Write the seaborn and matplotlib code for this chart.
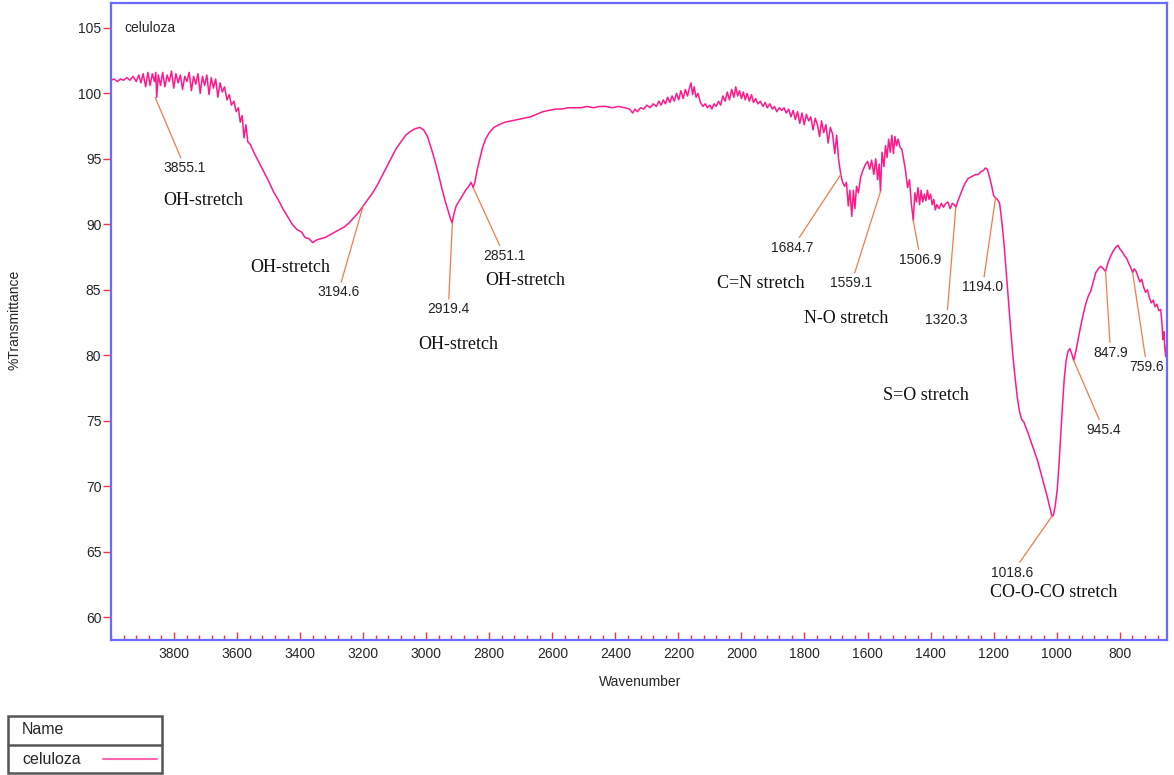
"""
FTIR spectrum of celuloza, redrawn with seaborn/matplotlib.
"""
import matplotlib
matplotlib.use("Agg")
import matplotlib.pyplot as plt
import matplotlib.ticker as mticker
from matplotlib.patches import Rectangle
import numpy as np
import pandas as pd
import seaborn as sns

# ─── Data ─────────────────────────────────────────────────────────────────────
WAVENUMBER = [
    4000, 3990, 3980, 3970, 3960, 3950, 3940, 3930, 3920, 3912, 3905, 3898, 3890,
    3883, 3876, 3869, 3862, 3858, 3855, 3850, 3843, 3836, 3829, 3822, 3815, 3808,
    3801, 3794, 3787, 3780, 3773, 3766, 3759, 3752, 3745, 3738, 3731, 3724, 3717,
    3710, 3703, 3696, 3689, 3682, 3675, 3668, 3661, 3654, 3647, 3640, 3632, 3625,
    3618, 3610, 3603, 3596, 3590, 3584, 3578, 3572, 3566, 3558, 3545, 3530, 3515,
    3500, 3485, 3470, 3455, 3440, 3425, 3410, 3395, 3385, 3372, 3360, 3348, 3335,
    3320, 3305, 3290, 3275, 3260, 3245, 3230, 3215, 3200, 3185, 3170, 3155, 3140,
    3125, 3110, 3095, 3080, 3065, 3050, 3035, 3020, 3008, 2996, 2984, 2972, 2960,
    2950, 2940, 2930, 2924, 2918, 2912, 2905, 2895, 2885, 2875, 2865, 2858, 2851,
    2845, 2838, 2830, 2822, 2812, 2800, 2785, 2770, 2750, 2730, 2710, 2690, 2670,
    2650, 2630, 2610, 2590, 2570, 2550, 2530, 2510, 2490, 2470, 2450, 2430, 2410,
    2390, 2370, 2355, 2345, 2338, 2330, 2320, 2310, 2300, 2290, 2280, 2270, 2262,
    2255, 2248, 2241, 2234, 2227, 2220, 2213, 2206, 2199, 2192, 2185, 2178, 2171,
    2165, 2160, 2155, 2150, 2144, 2138, 2130, 2122, 2115, 2108, 2100, 2094, 2087,
    2080, 2073, 2066, 2059, 2052, 2045, 2038, 2031, 2024, 2018, 2012, 2006, 2000,
    1994, 1988, 1982, 1975, 1968, 1962, 1955, 1948, 1940, 1932, 1925, 1918, 1910,
    1902, 1895, 1888, 1880, 1872, 1865, 1858, 1850, 1843, 1836, 1829, 1822, 1815,
    1808, 1801, 1794, 1787, 1780, 1773, 1766, 1759, 1752, 1746, 1739, 1732, 1725,
    1718, 1711, 1704, 1698, 1692, 1685, 1679, 1673, 1667, 1661, 1656, 1650, 1645,
    1640, 1635, 1629, 1622, 1615, 1608, 1600, 1593, 1587, 1580, 1574, 1568, 1563,
    1559, 1554, 1548, 1543, 1538, 1533, 1528, 1523, 1518, 1513, 1508, 1503, 1497,
    1491, 1485, 1479, 1473, 1467, 1461, 1455, 1450, 1445, 1440, 1435, 1430, 1425,
    1420, 1415, 1410, 1405, 1400, 1395, 1390, 1385, 1380, 1373, 1366, 1359, 1352,
    1345, 1338, 1331, 1325, 1320, 1313, 1305, 1297, 1289, 1281, 1273, 1265, 1257,
    1249, 1241, 1233, 1226, 1220, 1213, 1206, 1200, 1194, 1188, 1181, 1174, 1167,
    1160, 1153, 1146, 1139, 1132, 1125, 1118, 1111, 1104, 1098, 1090, 1080, 1070,
    1060, 1050, 1040, 1030, 1022, 1015, 1010, 1004, 998, 993, 988, 982, 976, 970,
    964, 958, 952, 946, 940, 932, 924, 916, 908, 900, 892, 884, 876, 868, 860,
    852, 845, 838, 830, 822, 814, 806, 799, 792, 785, 778, 771, 765, 759, 754,
    748, 742, 736, 730, 724, 718, 712, 706, 700, 694, 688, 682, 676, 670, 666,
    663, 660, 657, 654, 651, 650,
]
TRANSMITTANCE = [
    101.0, 101.1, 100.9, 101.1, 101.0, 101.2, 101.0, 101.3, 100.9, 101.4, 100.8, 101.5, 100.5,
    101.6, 100.6, 101.5, 100.9, 101.6, 99.7, 101.4, 100.6, 101.6, 100.5, 101.4, 100.9, 101.7,
    100.4, 101.5, 100.8, 101.4, 100.3, 101.3, 100.9, 101.6, 100.2, 101.3, 100.7, 101.5, 100.0,
    101.3, 100.6, 101.4, 99.9, 101.2, 100.4, 101.1, 99.7, 100.8, 100.1, 100.5, 99.5, 99.9,
    99.1, 99.4, 98.6, 98.9, 97.8, 98.3, 96.6, 97.6, 96.3, 96.1, 95.4, 94.7, 94.0,
    93.3, 92.5, 91.9, 91.2, 90.6, 90.0, 89.6, 89.4, 89.0, 88.9, 88.6, 88.8, 88.9,
    89.0, 89.2, 89.4, 89.6, 89.8, 90.1, 90.5, 90.9, 91.4, 91.9, 92.4, 93.0, 93.7,
    94.4, 95.1, 95.8, 96.3, 96.8, 97.1, 97.3, 97.4, 97.2, 96.7, 95.8, 94.8, 93.7,
    92.7, 91.8, 91.0, 90.5, 90.1, 90.8, 91.4, 91.8, 92.2, 92.6, 92.9, 93.2, 92.8,
    93.3, 94.2, 95.0, 95.8, 96.5, 97.0, 97.4, 97.6, 97.8, 97.9, 98.0, 98.1, 98.2,
    98.4, 98.6, 98.7, 98.8, 98.8, 98.9, 98.9, 98.9, 99.0, 98.9, 99.0, 99.0, 98.9,
    99.0, 98.9, 98.8, 98.5, 98.8, 98.6, 98.9, 98.8, 99.1, 98.9, 99.2, 99.0, 99.4,
    99.1, 99.5, 99.2, 99.7, 99.3, 99.8, 99.4, 100.0, 99.5, 100.2, 99.6, 100.3, 99.8,
    100.4, 100.8, 99.9, 100.5, 99.7, 100.0, 99.3, 99.0, 99.2, 98.9, 99.1, 98.8, 99.2,
    99.0, 99.4, 99.1, 99.8, 99.4, 100.1, 99.5, 100.3, 99.7, 100.5, 99.8, 100.2, 99.6,
    100.1, 99.5, 100.0, 99.4, 99.9, 99.3, 99.6, 99.2, 99.4, 99.0, 99.3, 98.9, 99.2,
    98.8, 99.0, 98.6, 98.9, 98.7, 98.9, 98.5, 98.8, 98.2, 98.7, 98.0, 98.6, 97.7,
    98.5, 97.6, 98.4, 97.9, 98.2, 97.2, 98.1, 97.6, 96.7, 97.9, 97.0, 97.6, 96.2,
    97.4, 96.9, 95.4, 96.8, 95.0, 93.8, 93.2, 92.9, 93.2, 91.4, 92.6, 90.6, 92.6,
    91.2, 92.9, 92.4, 93.6, 94.1, 94.5, 94.8, 94.2, 94.9, 93.8, 95.0, 93.4, 94.6,
    92.5, 95.5, 94.4, 96.0, 95.1, 96.5, 95.5, 96.8, 95.4, 96.7, 96.0, 96.5, 95.9,
    95.7, 94.9, 94.0, 92.8, 93.4, 91.6, 90.3, 92.4, 91.7, 92.8, 91.5, 92.6, 91.7,
    92.3, 91.8, 92.6, 91.9, 92.3, 91.5, 91.9, 91.1, 91.5, 91.2, 91.6, 91.3, 91.6,
    91.7, 91.2, 91.6, 91.5, 91.3, 91.8, 92.3, 92.8, 93.2, 93.5, 93.6, 93.7, 93.8,
    93.8, 94.0, 94.1, 94.3, 94.2, 93.6, 92.9, 92.2, 92.0, 91.9, 91.6, 90.2, 88.5,
    86.4, 84.2, 82.0, 80.0, 78.3, 76.8, 75.7, 75.1, 74.9, 74.5, 74.0, 73.3, 72.6,
    71.9, 71.0, 70.1, 69.2, 68.4, 67.7, 67.8, 68.6, 69.8, 71.5, 73.6, 76.0, 78.2, 79.6,
    80.3, 80.5, 80.1, 79.6, 80.2, 81.2, 82.2, 83.1, 83.9, 84.5, 84.9, 85.6, 86.3, 86.6, 86.8,
    86.6, 86.4, 87.0, 87.5, 87.9, 88.2, 88.4, 88.1, 87.9, 87.6, 87.4, 87.0, 86.7, 86.3, 86.6,
    86.4, 86.0, 85.6, 85.8, 85.2, 84.8, 85.0, 84.4, 84.0, 84.2, 83.7, 83.9, 83.4, 83.5, 82.4,
    81.2, 81.8, 80.6, 79.9, 80.8, 80.4,
]

# labelled x ticks (4000 only carries a minor tick)
X_TICKS = [3800, 3600, 3400, 3200, 3000, 2800, 2600, 2400, 2200, 2000,
           1800, 1600, 1400, 1200, 1000, 800]

# peak labels: text, marked point on the curve, label centre
PEAK_LABELS = ["3855.1", "3194.6", "2919.4", "2851.1", "1684.7", "1559.1", "1506.9",
               "1320.3", "1194.0", "1018.6", "945.4", "847.9", "759.6"]
PEAK_WN = [3860, 3200, 2917, 2851, 1685, 1559, 1455, 1320, 1194, 1015, 946, 845, 759]
PEAK_T = [99.7, 91.4, 90.1, 92.8, 93.8, 92.5, 90.3, 91.3, 92.0, 67.7, 79.6, 86.4, 86.3]
LABEL_WN = [3765, 3279, 2930, 2752, 1838, 1651, 1432, 1349, 1235, 1140, 851, 829, 714]
LABEL_T = [94.3, 84.8, 83.5, 87.6, 88.2, 85.5, 87.3, 82.7, 85.2, 63.4, 74.3, 80.2, 79.1]

# band assignments (serif text)
BAND_TEXT = ["OH-stretch", "OH-stretch", "OH-stretch", "OH-stretch", "C=N stretch",
             "N-O stretch", "S=O stretch", "CO-O-CO stretch"]
BAND_WN = [3708, 3432, 2898, 2686, 1940, 1667, 1416, 1010]
BAND_T = [91.8, 86.7, 80.8, 85.7, 85.5, 82.8, 76.9, 61.9]

LINE_COLOR = "#ff1a8c"
SPINE_COLOR = "#6a6aff"
TICK_COLOR = "#ff3040"
LEADER_COLOR = "#f47a50"
SANS = ["Liberation Sans", "DejaVu Sans"]
SERIF = ["Liberation Serif", "DejaVu Serif"]

sns.set_style("white")
plt.rcParams["font.family"] = SANS

df = pd.DataFrame({"wavenumber": WAVENUMBER, "transmittance": TRANSMITTANCE})

W, H = 1174, 775
fig = plt.figure(figsize=(W / 100, H / 100), dpi=100)
ax = fig.add_axes([111 / W, 1 - 640 / H, (1167 - 111) / W, (640 - 3) / H])

sns.lineplot(data=df, x="wavenumber", y="transmittance", ax=ax,
             color=LINE_COLOR, lw=1.1, estimator=None, sort=False)

ax.set_xlim(4000, 650)
ax.set_ylim(58.25, 106.9)
ax.set_xlabel("")
ax.set_ylabel("")

ax.xaxis.set_major_locator(mticker.FixedLocator(X_TICKS))
ax.xaxis.set_minor_locator(mticker.MultipleLocator(40))
ax.yaxis.set_major_locator(mticker.MultipleLocator(5))
ax.tick_params(axis="x", which="major", direction="in", length=6, width=1,
               color=TICK_COLOR, labelsize=10, pad=5, bottom=True)
ax.tick_params(axis="x", which="minor", direction="in", length=3.5, width=1,
               color=TICK_COLOR, bottom=True)
ax.tick_params(axis="y", which="major", direction="out", length=6, width=1,
               color=TICK_COLOR, labelsize=10, pad=1, left=True)
for s in ax.spines.values():
    s.set_color(SPINE_COLOR)
    s.set_linewidth(1.6)

ax.text(3956, 105, "celuloza", fontsize=10, ha="left", va="center")

for lab, pw, pt, lw_, lt in zip(PEAK_LABELS, PEAK_WN, PEAK_T, LABEL_WN, LABEL_T):
    ax.annotate(lab, xy=(pw, pt), xytext=(lw_, lt), fontsize=10,
                ha="center", va="center", color="#222222",
                arrowprops=dict(arrowstyle="-", color=LEADER_COLOR, lw=0.9,
                                shrinkA=0, shrinkB=0))

for txt, bw, bt in zip(BAND_TEXT, BAND_WN, BAND_T):
    ax.text(bw, bt, txt, fontsize=13, family=SERIF, ha="center", va="center",
            color="#111111")

fig.text(640 / W, 1 - 682 / H, "Wavenumber", fontsize=10, ha="center", va="center")
fig.text(15 / W, 1 - 320 / H, "%Transmittance", fontsize=10, rotation=90,
         ha="center", va="center")

# legend table in the lower-left corner
lg = fig.add_axes([7 / W, 1 - 774 / H, 156 / W, 59 / H])
lg.set_xlim(0, 156)
lg.set_ylim(59, 0)
lg.axis("off")
lg.add_patch(Rectangle((1, 1), 154, 57, fill=False, edgecolor="#555555", lw=1.8,
                       clip_on=False))
lg.plot([1, 155], [30, 30], color="#555555", lw=1.8, clip_on=False)
lg.text(15, 15, "Name", fontsize=11.5, ha="left", va="center")
lg.text(15, 45, "celuloza", fontsize=11.5, ha="left", va="center")
lg.plot([96, 150], [44, 44], color="#ff69b4", lw=1.5)

fig.savefig("out.png", dpi=100)
